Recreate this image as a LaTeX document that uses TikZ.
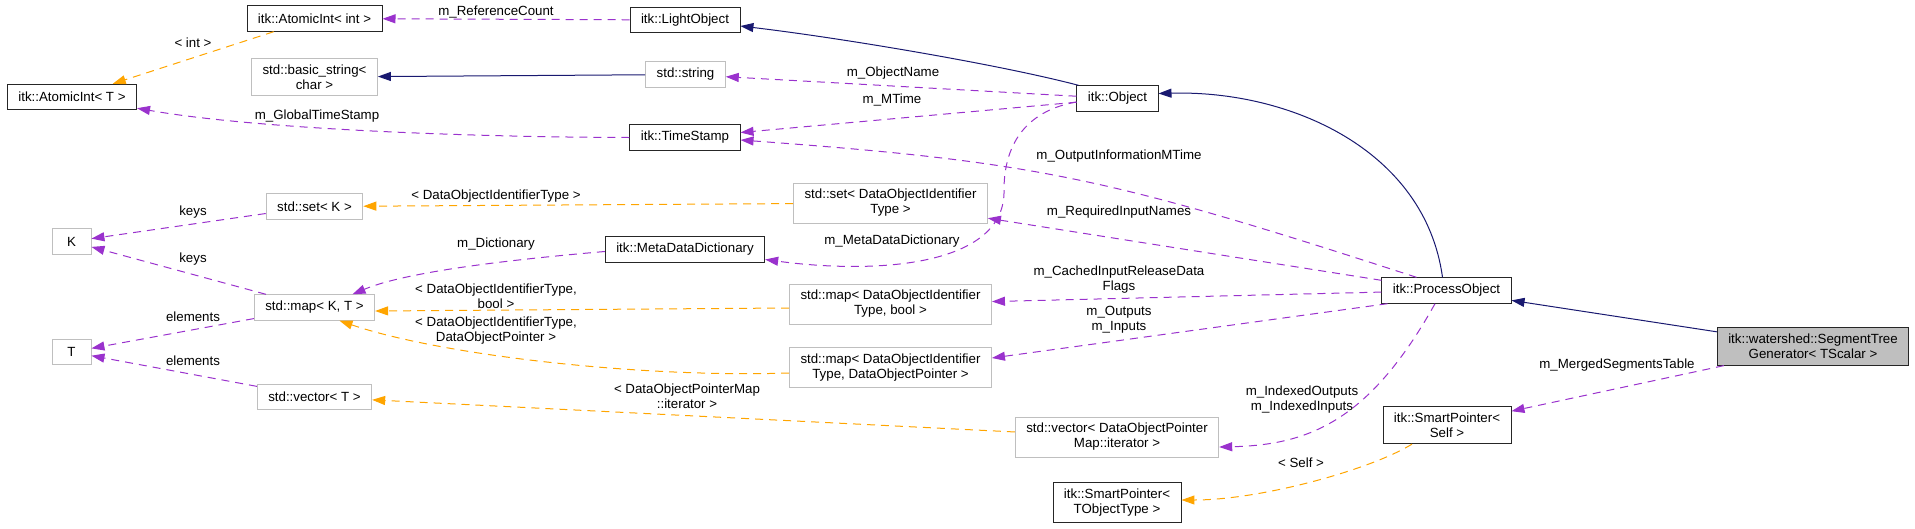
\documentclass[tikz,border=0pt]{standalone}
\usepackage{fontspec}
\setmainfont{Liberation Sans}
\usetikzlibrary{arrows.meta}
\definecolor{dxnavy}{HTML}{191970}
\definecolor{dxpurple}{HTML}{9A32CD}
\definecolor{dxorange}{HTML}{FFA500}
\definecolor{dxgray}{HTML}{BFBFBF}

\begin{document}
\begin{tikzpicture}[x=1pt, y=-1pt,
  every node/.style={font=\fontsize{13.3}{15}\selectfont},
  box/.style={draw=black!85, line width=0.9pt, fill=white, inner xsep=11pt, inner ysep=6.3pt, minimum height=25.5pt, align=center},
  undoc/.style={box, draw=dxgray},
  mainbox/.style={box, fill=dxgray},
  lbl/.style={inner sep=0pt, align=center},
  inherit/.style={-{Triangle[length=13pt, width=9pt]}, line width=1pt, dxnavy},
  member/.style={-{Triangle[length=13pt, width=9pt]}, line width=1pt, dash pattern=on 8pt off 6pt, dxpurple},
  tmpl/.style={member, dxorange},
]
\useasboundingbox (0,0) rectangle (1915,528);

% Classes (pixel grid, y downwards)
\node[box]   (aiint)     at (314.5,18.5)  {itk::AtomicInt< int >};
\node[box]   (aiT)       at (72,97)       {itk::AtomicInt< T >};
\node[box]   (lightobj)  at (685,20)      {itk::LightObject};
\node[undoc] (bstring)   at (314.5,77)    {std::basic\_string<\\char >};
\node[undoc] (stdstring) at (685.5,74.5)  {std::string};
\node[box]   (object)    at (1117.5,98.5) {itk::Object};
\node[box]   (timestamp) at (685,137.5)   {itk::TimeStamp};
\node[undoc] (setK)      at (314.5,206.5) {std::set< K >};
\node[undoc, minimum width=39pt] (kparam) at (71.5,241.5) {K};
\node[undoc] (setdoi)    at (890.5,203)   {std::set< DataObjectIdentifier\\Type >};
\node[box]   (mdd)       at (685,249.5)   {itk::MetaDataDictionary};
\node[undoc] (mapKT)     at (314.5,307.5) {std::map< K, T >};
\node[undoc, minimum width=39pt] (tparam) at (71.5,352) {T};
\node[undoc] (mapbool)   at (890.5,304)   {std::map< DataObjectIdentifier\\Type, bool >};
\node[undoc] (mapdop)    at (890.5,367.5) {std::map< DataObjectIdentifier\\Type, DataObjectPointer >};
\node[box]   (procobj)   at (1446.5,290.5) {itk::ProcessObject};
\node[mainbox] (segtree) at (1813,346.5)  {itk::watershed::SegmentTree\\Generator< TScalar >};
\node[undoc] (vecT)      at (314.5,397)   {std::vector< T >};
\node[undoc] (vecit)     at (1117,437)    {std::vector< DataObjectPointer\\Map::iterator >};
\node[box]   (spself)    at (1447,425)    {itk::SmartPointer<\\Self >};
\node[box]   (spT)       at (1117,502.5)  {itk::SmartPointer<\\TObjectType >};

% Inheritance
\draw[inherit] ([xshift=2pt]object.north west) .. controls (997,64) and (841,38) .. ([yshift=-6pt]lightobj.east);
\draw[inherit] ([xshift=-4pt]procobj.north) .. controls (1425,150) and (1290,90) .. ([yshift=5pt]object.east);
\draw[inherit] (segtree) -- (procobj);
\draw[inherit] (stdstring) -- (bstring);

% Template instances
\draw[tmpl] (aiint) -- (aiT);
\draw[tmpl] (setdoi) -- (setK);
\draw[tmpl] ([yshift=-4pt]mapbool.west) -- ([yshift=-3.5pt]mapKT.east);
\draw[tmpl] ([yshift=-5.5pt]mapdop.west) .. controls (640,378) and (440,355) .. ([xshift=25pt]mapKT.south);
\draw[tmpl] (vecit) -- (vecT);
\draw[tmpl] ([xshift=-35pt]spself.south) .. controls (1370,470) and (1260,500) .. ([yshift=2.5pt]spT.east);

% Members
\draw[member] (lightobj) -- (aiint);
\draw[member] (timestamp.west) .. controls (450,137) and (250,128) .. ([yshift=2pt]aiT.south east);
\draw[member] (object) -- (stdstring);
\draw[member] (object) -- (timestamp);
\draw[member] ([xshift=-30pt]procobj.north) .. controls (1110,178) and (1040,162) .. ([yshift=-2.5pt]timestamp.east);
\draw[member] ([yshift=-3.5pt]object.west) .. controls (1030,110) and (1004,140) .. (1004,190)
  .. controls (1006,265) and (880,275) .. ([yshift=-10pt]mdd.east);
\draw[member] (procobj) -- (setdoi);
\draw[member] (procobj) -- (mapbool);
\draw[member] ([xshift=6pt]procobj.south west) -- ([yshift=9.5pt]mapdop.east);
\draw[member] ([xshift=-11.5pt]procobj.south) .. controls (1370,420) and (1310,445) .. ([yshift=-10pt]vecit.east);
\draw[member] (setK) -- (kparam);
\draw[member] (mapKT) -- (kparam);
\draw[member] ([yshift=-2pt]mdd.west) .. controls (530,258) and (410,270) .. ([xshift=38pt]mapKT.north);
\draw[member] (mapKT) -- (tparam);
\draw[member] (vecT) -- (tparam);
\draw[member] (segtree) -- (spself);

% Edge labels
\node[lbl] (l-refcount) at (496,12)   {m\_ReferenceCount};
\node[lbl] (l-int)      at (193,43)   {< int >};
\node[lbl] (l-gts)      at (317,116)  {m\_GlobalTimeStamp};
\node[lbl] (l-objname)  at (893,73)   {m\_ObjectName};
\node[lbl] (l-mtime)    at (892,100)  {m\_MTime};
\node[lbl] (l-oimtime)  at (1119,156) {m\_OutputInformationMTime};
\node[lbl] (l-doitype)  at (496,196)  {< DataObjectIdentifierType >};
\node[lbl] (l-keys1)    at (193,212)  {keys};
\node[lbl] (l-keys2)    at (193,259)  {keys};
\node[lbl] (l-dict)     at (496,244)  {m\_Dictionary};
\node[lbl] (l-mdd)      at (892,241)  {m\_MetaDataDictionary};
\node[lbl] (l-reqin)    at (1119,212) {m\_RequiredInputNames};
\node[lbl] (l-doibool)  at (496,296)  {< DataObjectIdentifierType,\\bool >};
\node[lbl] (l-cached)   at (1119,280) {m\_CachedInputReleaseData\\Flags};
\node[lbl] (l-doiptr)   at (496,331)  {< DataObjectIdentifierType,\\DataObjectPointer >};
\node[lbl] (l-outin)    at (1119,320) {m\_Outputs\\m\_Inputs};
\node[lbl] (l-elem1)    at (193,317)  {elements};
\node[lbl] (l-elem2)    at (193,361)  {elements};
\node[lbl] (l-iter)     at (687,396)  {< DataObjectPointerMap\\::iterator >};
\node[lbl] (l-indexed)  at (1302,400) {m\_IndexedOutputs\\m\_IndexedInputs};
\node[lbl] (l-merged)   at (1617,365) {m\_MergedSegmentsTable};
\node[lbl] (l-self)     at (1301,463) {< Self >};
\end{tikzpicture}
\end{document}
